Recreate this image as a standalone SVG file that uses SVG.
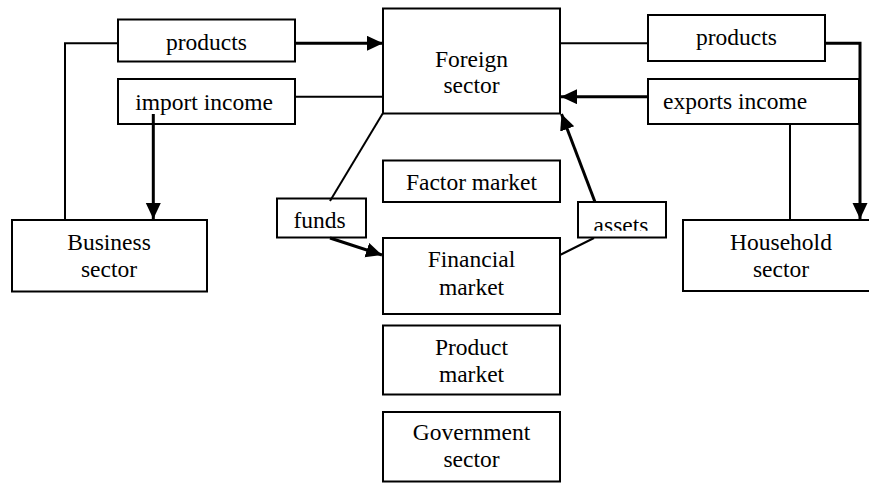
<svg xmlns="http://www.w3.org/2000/svg" width="869" height="483" viewBox="0 0 869 483">
<defs>
<style>
.box{fill:#fff;stroke:#000;stroke-width:2}
.t{font-family:'Liberation Serif',Tinos,'Times New Roman','DejaVu Serif',serif;font-size:23.5px;fill:#000;text-anchor:middle}
.ln{fill:none;stroke:#000;stroke-width:2}
.ar{fill:none;stroke:#000;stroke-width:3}
</style>
<marker id="ah" markerUnits="userSpaceOnUse" markerWidth="17" markerHeight="16" refX="16" refY="7.5" orient="auto">
<path d="M0,0 L16,7.5 L0,15 z" fill="#000"/>
</marker>
<clipPath id="assetsClip"><rect x="578" y="202" width="88" height="28.8"/></clipPath>
</defs>
<rect width="869" height="483" fill="#fff"/>
<g id="nodes" font-family="Liberation Serif, Tinos, Times New Roman, DejaVu Serif, serif">
<g id="products-left"><rect class="box" x="118" y="19.5" width="177" height="42"/><text class="t" x="206.5" y="50">products</text></g>
<g id="import-income"><rect class="box" x="118" y="79" width="177" height="45"/><text class="t" x="204" y="110">import income</text></g>
<g id="foreign-sector"><rect class="box" x="383" y="8.5" width="177" height="105"/><text class="t" x="471.5" y="66.7">Foreign</text><text class="t" x="471.5" y="93.3">sector</text></g>
<g id="factor-market"><rect class="box" x="383" y="160.5" width="177" height="41.5"/><text class="t" x="471.5" y="190">Factor market</text></g>
<g id="financial-market"><rect class="box" x="383" y="238" width="177" height="76"/><text class="t" x="471.5" y="266.7">Financial</text><text class="t" x="471.5" y="295">market</text></g>
<g id="product-market"><rect class="box" x="383" y="325.5" width="177" height="69"/><text class="t" x="471.5" y="355">Product</text><text class="t" x="471.5" y="381.7">market</text></g>
<g id="government-sector"><rect class="box" x="383" y="412" width="177" height="69.5"/><text class="t" x="471.5" y="440">Government</text><text class="t" x="471.5" y="466.7">sector</text></g>
<g id="business-sector"><rect class="box" x="12" y="220" width="195" height="71.5"/><text class="t" x="109" y="250">Business</text><text class="t" x="109" y="277.3">sector</text></g>
<g id="funds"><rect class="box" x="277" y="198.5" width="89" height="39"/><text class="t" x="319.5" y="228.3">funds</text></g>
<g id="assets"><rect class="box" x="578" y="202" width="88" height="35.5"/><text class="t" x="621" y="233" clip-path="url(#assetsClip)">assets</text></g>
<g id="products-right"><rect class="box" x="648" y="15" width="177" height="46"/><text class="t" x="736.5" y="45">products</text></g>
<g id="exports-income"><rect class="box" x="648" y="79" width="211" height="45"/><text class="t" x="663" y="109.3" style="text-anchor:start">exports income</text></g>
<g id="household-sector"><rect class="box" x="683" y="220" width="200" height="71"/><text class="t" x="781" y="250">Household</text><text class="t" x="781" y="276.7">sector</text></g>
</g>
<g id="connectors">
<polyline class="ln" points="118,43.3 65,43.3 65,220"/>
<line class="ar" x1="295" y1="43.3" x2="383" y2="43.3" marker-end="url(#ah)"/>
<line class="ln" x1="295" y1="96.7" x2="383" y2="96.7"/>
<line class="ar" x1="153.3" y1="114" x2="153.3" y2="219" marker-end="url(#ah)"/>
<line class="ln" x1="383" y1="113" x2="330" y2="201"/>
<line class="ar" x1="330" y1="238" x2="382" y2="255" marker-end="url(#ah)"/>
<line class="ln" x1="560" y1="43.3" x2="648" y2="43.3"/>
<polyline class="ar" points="825,43.3 860,43.3 860,219" marker-end="url(#ah)"/>
<line class="ar" x1="648" y1="96.7" x2="561" y2="96.7" marker-end="url(#ah)"/>
<line class="ln" x1="790" y1="124" x2="790" y2="220"/>
<line class="ar" x1="595" y1="202" x2="561.5" y2="114" marker-end="url(#ah)"/>
<line class="ln" x1="560" y1="255" x2="594" y2="238"/>
</g>
</svg>
